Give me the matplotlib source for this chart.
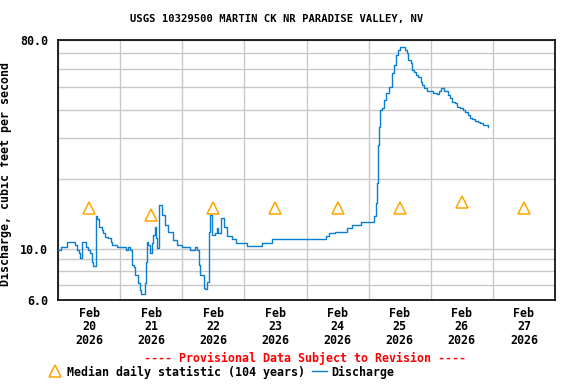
import matplotlib as mpl
mpl.use('Agg')
import matplotlib.pyplot as plt
import numpy as np
import pandas as pd
from matplotlib.lines import Line2D

# discharge, hours after 2026-02-20 00:00 and cfs
hours = [0, 1.2, 3.4, 6.6, 7.5, 8.1, 8.5, 9.2, 9.3, 10.7, 10.9, 11.7, 12.4, 13.0, 13.5, 14.3,
         14.6, 14.7, 15.2, 15.9, 16.9, 17.5, 18.2, 19.4, 20.5, 21.0, 22.7, 26.2, 27.2, 27.9,
         28.5, 29.2, 29.8, 30.8, 31.5, 32.0, 32.6, 33.7, 34.1, 34.5, 34.8, 35.6, 36.3, 36.8,
         37.5, 38.0, 38.3, 39.0, 39.1, 40.1, 41.4, 42.6, 44.5, 46.0, 47.9, 51.1, 53.0, 53.7,
         54.3, 55.0, 56.3, 56.9, 57.6, 58.2, 58.45, 58.8, 59.5, 60.8, 61.4, 61.9, 63.0, 64.0,
         65.3, 67.2, 68.9, 73.0, 73.05, 78.9, 82.7, 103.4, 104.6, 107.2, 111.7, 113.7, 116.9,
         120.1, 122.1, 122.7, 123.4, 123.5, 123.9, 124.3, 125.0, 125.9, 126.9, 127.9, 128.9,
         129.8, 130.7, 131.5, 132.3, 133.0, 134.0, 134.7, 135.4, 136.2, 136.9, 137.5, 138.2,
         139.2, 140.1, 140.8, 141.4, 142.4, 143.4, 144.7, 146.6, 147.3, 147.9, 149.2, 150.5,
         151.5, 152.4, 153.4, 154.3, 155.3, 156.3, 157.2, 158.2, 159.2, 160.1, 161.1, 162.1,
         163.0, 164.0, 165.2, 166.3]
flow = [9.9, 10.2, 10.7, 10.4, 9.9, 9.6, 9.15, 9.15, 10.7, 10.7, 10.2, 9.9, 9.6, 8.8, 8.42, 8.42,
        9.24, 13.9, 13.5, 12.4, 12.05, 11.7, 11.2, 11.1, 10.7, 10.4, 10.2, 9.9, 10.2, 9.9,
        8.5, 8.33, 7.7, 7.1, 6.6, 6.37, 6.37, 7.1, 8.77, 10.7, 10.4, 9.6, 10.6, 11.5,
        12.4, 11.1, 10.1, 10.1, 15.5, 14.0, 12.7, 11.8, 10.9, 10.4, 10.2, 9.9, 10.2, 9.9,
        8.5, 7.7, 6.76, 6.67, 7.2, 8.26, 11.85, 14.0, 11.5, 11.65, 12.3, 11.65, 13.6, 12.4,
        11.3, 11.05, 10.6, 10.55, 10.3, 10.6, 11.0, 11.35, 11.66, 11.85, 12.3, 12.7, 13.0,
        13.1, 13.8, 15.8, 19.3, 28.1, 33.7, 39.9, 40.5, 44.0, 47.2, 50.3, 57.7,
        62.5, 69.0, 72.5, 74.5, 74.5, 72.5, 70.4, 65.6, 63.5, 59.4, 58.4, 56.5,
        55.6, 52.9, 51.2, 49.5, 48.3, 47.9, 47.3, 46.8, 48.3, 49.5, 48.3, 46.3,
        44.8, 43.3, 42.6, 41.2, 40.5, 39.9, 39.2, 37.9, 36.7, 36.3, 35.8, 35.5,
        34.9, 34.3, 34.3, 33.75]

# median daily statistic (noon of each day)
median_days = ['2026-02-20', '2026-02-21', '2026-02-22', '2026-02-23',
               '2026-02-24', '2026-02-25', '2026-02-26', '2026-02-27']
median_vals = [15, 14, 15, 15, 15, 15, 16, 15]

start = pd.Timestamp('2026-02-20')
t = start + pd.to_timedelta(hours, unit='h')
t_med = pd.to_datetime(median_days) + pd.Timedelta(hours=12)

font = 'DejaVu Sans Mono'
fs = 8.4

fig = plt.figure(figsize=(5.76, 3.84), dpi=100)
ax = fig.add_axes([58/576, 1-300/384, 497/576, 260/384])

ax.plot(t, flow, color='#0a7fd1', lw=1.0, drawstyle='steps-post', zorder=3)
ax.plot(t_med, median_vals, ls='none', marker='^', ms=8, mfc='none',
        mec='#ffa500', mew=1.1, zorder=4)

ax.set_yscale('log')
ax.set_ylim(6, 80)
ax.set_xlim(start, start + pd.Timedelta(days=8))
ax.set_yticks([6, 10, 80])
ax.set_yticklabels(['6.0', '10.0', '80.0'])
ax.set_yticks([7, 8, 9, 20, 30, 40, 50, 60, 70], minor=True)
ax.yaxis.set_minor_formatter(mpl.ticker.NullFormatter())

days = start + pd.to_timedelta(np.arange(9), unit='D')
ax.set_xticks(days, minor=True)
noons = start + pd.to_timedelta(np.arange(8) + 0.5, unit='D')
ax.set_xticks(noons)
ax.set_xticklabels([f'Feb\n{d.day}\n2026' for d in noons], linespacing=1.05)

ax.grid(True, which='minor', color='#c8c8c8', lw=1.0)
ax.grid(True, which='major', axis='y', color='#c8c8c8', lw=1.0)
ax.tick_params(which='both', length=0)
ax.tick_params(axis='x', pad=5)
ax.tick_params(axis='y', pad=7)
for lab in ax.get_xticklabels() + ax.get_yticklabels():
    lab.set_fontfamily(font)
    lab.set_fontsize(fs)
    lab.set_fontweight('bold')
for sp in ax.spines.values():
    sp.set_color('black')
    sp.set_linewidth(1.2)

ax.set_ylabel('Discharge, cubic feet per second', fontfamily=font,
              fontsize=fs, fontweight='bold')
ax.yaxis.set_label_coords((12-58)/497, (300-174.5)/260)

fig.text(277/576, 1-19/384, 'USGS 10329500 MARTIN CK NR PARADISE VALLEY, NV',
         fontfamily=font, fontsize=7.6, fontweight='bold', ha='center', va='center')

fig.text(305/576, 1-358/384, '---- Provisional Data Subject to Revision ----',
         color='red', fontfamily=font, fontsize=fs, fontweight='bold',
         ha='center', va='center')

handles = [Line2D([], [], ls='none', marker='^', ms=8, mfc='none', mec='#ffa500', mew=1.1),
           Line2D([], [], color='#0a7fd1', lw=1.0)]
fig.legend(handles, ['Median daily statistic (104 years)', 'Discharge'],
           loc='center left', bbox_to_anchor=(47/576, 1-372/384), ncol=2,
           frameon=False, handlelength=1.3, handletextpad=0.4, columnspacing=0.6,
           borderaxespad=0, borderpad=0,
           prop={'family': font, 'size': fs, 'weight': 'bold'})

fig.savefig('out.png', dpi=100)
